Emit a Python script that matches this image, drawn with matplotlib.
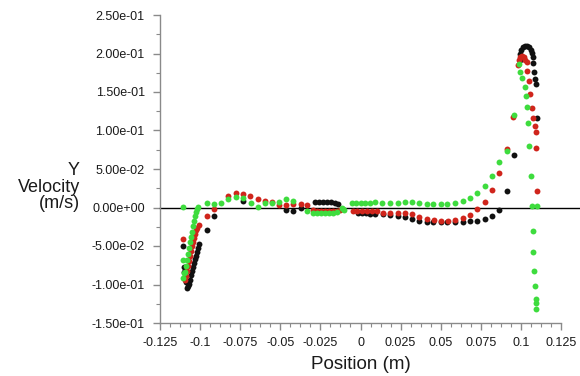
"""Y velocity vs position, three scatter series"""

import numpy as np
import matplotlib
matplotlib.use("Agg")
import matplotlib.pyplot as plt
from matplotlib.ticker import FuncFormatter, MultipleLocator, AutoMinorLocator

# black series
black_x = [-0.1107, -0.1100, -0.1100, -0.1088, -0.1082, -0.1075, -0.1069, -0.1063, -0.1057,
           -0.1051, -0.1044, -0.1038, -0.1032, -0.1026, -0.1020, -0.1013, -0.1007, -0.0957,
           -0.0913, -0.0733, -0.0464, -0.0421, -0.0371, -0.0284, -0.0259, -0.0234, -0.0209,
           -0.0184, -0.0160, -0.0140, -0.0015, 0.0010, 0.0035, 0.0060, 0.0090, 0.0140,
           0.0184, 0.0234, 0.0277, 0.0321, 0.0365, 0.0415, 0.0452, 0.0502, 0.0539, 0.0589,
           0.0639, 0.0683, 0.0726, 0.0776, 0.0820, 0.0863, 0.0913, 0.0957, 0.0994, 0.0994,
           0.1000, 0.1013, 0.1026, 0.1038, 0.1051, 0.1063, 0.1069, 0.1075, 0.1075, 0.1082,
           0.1088, 0.1094, 0.1100]
black_y = [-0.050, -0.077, -0.084, -0.097, -0.105, -0.102, -0.099, -0.094, -0.088,
           -0.083, -0.077, -0.072, -0.067, -0.063, -0.058, -0.053, -0.048, -0.029,
           -0.011, 0.009, -0.003, -0.004, -0.001, 0.007, 0.007, 0.007, 0.007,
           0.007, 0.006, 0.005, -0.007, -0.007, -0.007, -0.008, -0.008, -0.009,
           -0.010, -0.011, -0.012, -0.015, -0.017, -0.019, -0.019, -0.019, -0.019, -0.019,
           -0.019, -0.018, -0.017, -0.015, -0.011, -0.003, 0.021, 0.068, 0.192, 0.199,
           0.204, 0.208, 0.210, 0.210, 0.209, 0.205, 0.201, 0.195, 0.188, 0.176,
           0.167, 0.161, 0.116]

# red series
red_x = [-0.1107, -0.1094, -0.1088, -0.1082, -0.1075, -0.1069, -0.1063, -0.1057, -0.1050,
         -0.1044, -0.1038, -0.1032, -0.1026, -0.1019, -0.1007, -0.0957, -0.0913, -0.0826,
         -0.0776, -0.0733, -0.0689, -0.0639, -0.0595, -0.0552, -0.0508, -0.0464, -0.0421,
         -0.0371, -0.0334, -0.0296, -0.0271, -0.0246, -0.0221, -0.0196, -0.0171, -0.0146,
         -0.0128, -0.0047, -0.0020, 0.0010, 0.0040, 0.0070, 0.0100, 0.0140, 0.0184, 0.0234,
         0.0277, 0.0321, 0.0365, 0.0415, 0.0458, 0.0502, 0.0546, 0.0589, 0.0639, 0.0683,
         0.0726, 0.0776, 0.0820, 0.0863, 0.0913, 0.0950, 0.0982, 0.0988, 0.0994, 0.1007,
         0.1019, 0.1026, 0.1038, 0.1038, 0.1051, 0.1057, 0.1069, 0.1075, 0.1088, 0.1094,
         0.1094, 0.1100]
red_y = [-0.041, -0.094, -0.089, -0.082, -0.076, -0.069, -0.063, -0.056, -0.050,
         -0.045, -0.040, -0.034, -0.029, -0.027, -0.023, -0.011, -0.002, 0.015,
         0.019, 0.0175, 0.015, 0.011, 0.008, 0.007, 0.003, 0.003, 0.0045,
         0.0045, 0.003, -0.003, -0.004, -0.004, -0.005, -0.005, -0.004, -0.004,
         -0.003, -0.005, -0.005, -0.005, -0.005, -0.005, -0.005, -0.007, -0.007, -0.007,
         -0.007, -0.008, -0.012, -0.015, -0.016, -0.0175, -0.0175, -0.016, -0.0136, -0.0097,
         -0.002, 0.007, 0.023, 0.045, 0.076, 0.1175, 0.185, 0.192, 0.195, 0.197,
         0.195, 0.192, 0.189, 0.177, 0.164, 0.147, 0.129, 0.116, 0.106, 0.098,
         0.077, 0.021]

# green series
green_x = [-0.1107, -0.1107, -0.1107, -0.1100, -0.1094, -0.1088, -0.1082, -0.1075, -0.1069,
           -0.1063, -0.1057, -0.1050, -0.1044, -0.1038, -0.1032, -0.1026, -0.1019, -0.1013,
           -0.0957, -0.0913, -0.0870, -0.0826, -0.0776, -0.0733, -0.0683, -0.0639, -0.0595,
           -0.0552, -0.0508, -0.0464, -0.0421, -0.0334, -0.0296, -0.0271, -0.0246, -0.0221,
           -0.0196, -0.0171, -0.0146, -0.0115, -0.0109, -0.0103, -0.0053, -0.0030, 0.0000,
           0.0030, 0.0060, 0.0090, 0.0134, 0.0184, 0.0234, 0.0277, 0.0321, 0.0365, 0.0415,
           0.0452, 0.0502, 0.0539, 0.0589, 0.0639, 0.0683, 0.0726, 0.0776, 0.0820, 0.0863,
           0.0913, 0.0957, 0.0988, 0.0994, 0.1007, 0.1026, 0.1032, 0.1038, 0.1044, 0.1051,
           0.1063, 0.1069, 0.1075, 0.1075, 0.1082, 0.1088, 0.1094, 0.1094, 0.1094, 0.1100]
green_y = [0.001, -0.068, -0.092, -0.085, -0.084, -0.076, -0.068, -0.060, -0.053,
           -0.045, -0.038, -0.032, -0.024, -0.017, -0.011, -0.006, -0.002, 0.001,
           0.006, 0.0045, 0.006, 0.011, 0.0136, 0.0123, 0.006, 0.0006, 0.006,
           0.006, 0.007, 0.011, 0.0084, -0.0045, -0.007, -0.007, -0.007, -0.007,
           -0.007, -0.007, -0.006, -0.001, -0.002, -0.003, 0.006, 0.006, 0.006,
           0.006, 0.006, 0.007, 0.0058, 0.006, 0.0058, 0.0071, 0.0071, 0.006, 0.0045,
           0.0045, 0.0045, 0.0045, 0.006, 0.0084, 0.0123, 0.0188, 0.028, 0.041, 0.059,
           0.073, 0.120, 0.186, 0.176, 0.168, 0.157, 0.145, 0.131, 0.110, 0.080,
           0.041, 0.002, -0.031, -0.058, -0.082, -0.102, -0.119, -0.124, -0.132, 0.002]

x_ticks = [-0.125, -0.1, -0.075, -0.05, -0.025, 0, 0.025, 0.05, 0.075, 0.1, 0.125]
x_labels = ["-0.125", "-0.1", "-0.075", "-0.05", "-0.025", "0",
            "0.025", "0.05", "0.075", "0.1", "0.125"]

plt.rcParams['font.family'] = ['Liberation Sans', 'DejaVu Sans']

fig = plt.figure(figsize=(5.8, 3.76), dpi=100)
ax = fig.add_axes([160 / 580, 53 / 376, 401 / 580, 308 / 376])

ax.scatter(black_x, black_y, s=18, color='#111111', linewidths=0, zorder=3)
ax.scatter(red_x, red_y, s=18, color='#d0251c', linewidths=0, zorder=4)
ax.scatter(green_x, green_y, s=18, color='#3edc3e', linewidths=0, zorder=5)

# zero line runs past the plot area to the figure edge
ax.axhline(0, xmin=0, xmax=1.05, color='black', lw=1, clip_on=False, zorder=2)

ax.set_xlim(-0.125, 0.125)
ax.set_ylim(-0.15, 0.25)
ax.set_xticks(x_ticks)
ax.set_xticklabels(x_labels)
ax.yaxis.set_major_locator(MultipleLocator(0.05))
ax.yaxis.set_major_formatter(FuncFormatter(lambda v, p: "{:.2e}".format(v)))
ax.yaxis.set_minor_locator(AutoMinorLocator(2))
ax.xaxis.set_minor_locator(AutoMinorLocator(4))

for side in ['top', 'right']:
    ax.spines[side].set_visible(False)
for side in ['left', 'bottom']:
    ax.spines[side].set_color('#8a8a8a')
    ax.spines[side].set_linewidth(1)

ax.tick_params(which='both', direction='out', color='#8a8a8a', labelsize=9,
               labelcolor='#1a1a1a')
ax.tick_params(which='major', length=5, width=1)
ax.tick_params(which='minor', length=3, width=0.8)
ax.tick_params(axis='y', pad=6)
ax.tick_params(axis='x', pad=5)

ax.set_xlabel('Position (m)', fontsize=13.5, color='#1a1a1a', labelpad=5)
fig.text(80 / 580, (376 - 187) / 376, 'Y\nVelocity\n(m/s)', ha='right', va='center',
         multialignment='right', fontsize=13, color='#1a1a1a', linespacing=0.95)

fig.savefig('out.png', dpi=100)
